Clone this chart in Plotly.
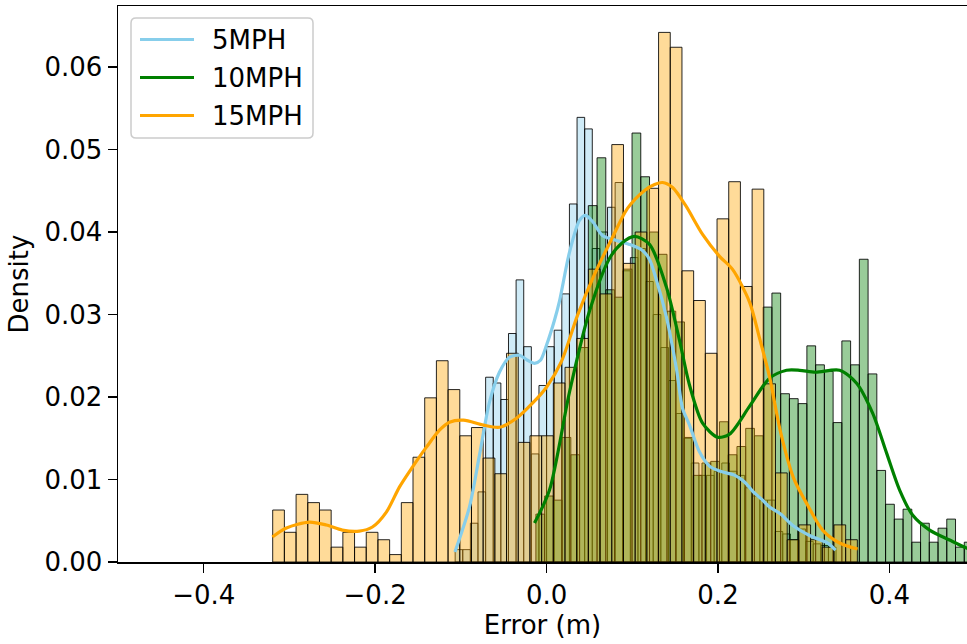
import plotly.graph_objects as go

# ---------------- data ----------------
series_names = ["5MPH", "10MPH", "15MPH"]
series_colors = ["#87CEEB", "#008000", "#FFA500"]

# histogram bins: first left edge and bin width (data units), 50 bins each
blue_bin_start, blue_bin_width = -0.10665, 0.008888
green_bin_start, green_bin_width = -0.01249, 0.01020
orange_bin_start, orange_bin_width = -0.31952, 0.013642

blue_density = [0.0015, 0.0015, 0.0047, 0.0085, 0.0224, 0.0217, 0.0197, 0.0277, 0.0342, 0.0261,
                0.0131, 0.0214, 0.0261, 0.0281, 0.0325, 0.0434, 0.0539, 0.0525, 0.0380, 0.0400,
                0.0430, 0.0460, 0.0353, 0.0369, 0.0380, 0.0340, 0.0300, 0.0260, 0.0220, 0.0180,
                0.0150, 0.0120, 0.0105, 0.0105, 0.0110, 0.0120, 0.0110, 0.0105, 0.0090, 0.0080,
                0.0075, 0.0075, 0.0037, 0.0034, 0.0027, 0.0040, 0.0025, 0.0022, 0.0020, 0.0018]

green_density = [0.0058, 0.0080, 0.0075, 0.0151, 0.0130, 0.0260, 0.0432, 0.0490, 0.0330, 0.0321,
                 0.0355, 0.0520, 0.0467, 0.0400, 0.0373, 0.0304, 0.0291, 0.0151, 0.0105, 0.0120,
                 0.0122, 0.0170, 0.0130, 0.0140, 0.0162, 0.0153, 0.0309, 0.0326, 0.0204, 0.0198,
                 0.0192, 0.0262, 0.0239, 0.0231, 0.0169, 0.0268, 0.0239, 0.0367, 0.0228, 0.0111,
                 0.0070, 0.0052, 0.0064, 0.0024, 0.0047, 0.0024, 0.0041, 0.0052, 0.0018, 0.0024]

orange_density = [0.0063, 0.0036, 0.0082, 0.0072, 0.0063, 0.0018, 0.0036, 0.0018, 0.0036, 0.0027,
                  0.0009, 0.0072, 0.0127, 0.0199, 0.0244, 0.0209, 0.0153, 0.0163, 0.0126, 0.0107,
                  0.0253, 0.0145, 0.0153, 0.0153, 0.0217, 0.0236, 0.0271, 0.0355, 0.0325, 0.0506,
                  0.0362, 0.0400, 0.0453, 0.0642, 0.0624, 0.0353, 0.0317, 0.0253, 0.0416, 0.0461,
                  0.0334, 0.0452, 0.0216, 0.0108, 0.0027, 0.0045, 0.0027, 0.0018, 0.0045, 0.0027]

# KDE curves
blue_kde_x = [-0.1069, -0.0900, -0.0783, -0.0666, -0.0550, -0.0433, -0.0316, -0.0223, -0.0141, -0.0071,
              -0.0001, 0.0092, 0.0150, 0.0267, 0.0384, 0.0454, 0.0536, 0.0652, 0.0816, 0.0967,
              0.1119, 0.1201, 0.1283, 0.1399, 0.1516, 0.1586, 0.1668, 0.1785, 0.1901, 0.2018,
              0.2193, 0.2310, 0.2403, 0.2520, 0.2602, 0.2730, 0.2882, 0.3080, 0.3279, 0.3372]
blue_kde_y = [0.00121, 0.00666, 0.01295, 0.01937, 0.02300, 0.02482, 0.02506, 0.02446, 0.02409, 0.02446,
              0.02627, 0.02930, 0.03160, 0.03753, 0.04140, 0.04201, 0.04128, 0.03959, 0.03898, 0.03850,
              0.03777, 0.03668, 0.03414, 0.02966, 0.02337, 0.01864, 0.01659, 0.01332, 0.01162, 0.01102,
              0.01053, 0.00969, 0.00860, 0.00751, 0.00666, 0.00581, 0.00436, 0.00315, 0.00230, 0.00145]

green_kde_x = [-0.0141, 0.0034, 0.0267, 0.0500, 0.0734, 0.0874, 0.1026, 0.1201, 0.1399, 0.1551,
               0.1668, 0.1820, 0.1995, 0.2135, 0.2369, 0.2602, 0.2800, 0.2952, 0.3138, 0.3419,
               0.3617, 0.3804, 0.3967, 0.4119, 0.4270, 0.4469, 0.4702, 0.4900, 0.4976]
green_kde_y = [0.00472, 0.00872, 0.02058, 0.03039, 0.03680, 0.03862, 0.03947, 0.03850, 0.03329, 0.02688,
               0.02143, 0.01683, 0.01513, 0.01550, 0.01889, 0.02228, 0.02324, 0.02324, 0.02300, 0.02324,
               0.02167, 0.01804, 0.01320, 0.00872, 0.00569, 0.00387, 0.00266, 0.00169, 0.00145]

orange_kde_x = [-0.3199, -0.3035, -0.2767, -0.2569, -0.2382, -0.2184, -0.2032, -0.1869, -0.1717, -0.1565,
                -0.1402, -0.1250, -0.1133, -0.0970, -0.0736, -0.0550, -0.0351, -0.0153, -0.0001, 0.0174,
                0.0361, 0.0559, 0.0757, 0.0944, 0.1143, 0.1260, 0.1353, 0.1470, 0.1622, 0.1820,
                0.2018, 0.2170, 0.2369, 0.2485, 0.2602, 0.2730, 0.2882, 0.3045, 0.3220, 0.3419, 0.3629]
orange_kde_y = [0.00303, 0.00412, 0.00484, 0.00448, 0.00387, 0.00375, 0.00424, 0.00605, 0.00908, 0.01150,
                0.01392, 0.01598, 0.01695, 0.01719, 0.01659, 0.01634, 0.01743, 0.01937, 0.02119, 0.02433,
                0.02990, 0.03487, 0.03910, 0.04286, 0.04504, 0.04576, 0.04600, 0.04540, 0.04322, 0.03971,
                0.03705, 0.03547, 0.03148, 0.02712, 0.02240, 0.01574, 0.01017, 0.00690, 0.00387, 0.00230, 0.00157]

x_tick_vals = [-0.4, -0.2, 0.0, 0.2, 0.4]
x_tick_text = ["\u22120.4", "\u22120.2", "0.0", "0.2", "0.4"]
y_tick_vals = [0.00, 0.01, 0.02, 0.03, 0.04, 0.05, 0.06]
y_tick_text = ["0.00", "0.01", "0.02", "0.03", "0.04", "0.05", "0.06"]

# ---------------- figure ----------------
FONT = "DejaVu Sans"
FS = 26
W, H = 967, 644
ML, MR, MT, MB = 118, 0, 6, 82
PW, PH = W - ML - MR, H - MT - MB


def rgba(hex_color, a):
    h = hex_color.lstrip("#")
    r, g, b = int(h[0:2], 16), int(h[2:4], 16), int(h[4:6], 16)
    return f"rgba({r},{g},{b},{a})"


def px_x(px):
    return (px - ML) / PW


def px_y(py):
    return (H - MB - py) / PH


hist_specs = [
    (blue_bin_start, blue_bin_width, blue_density),
    (green_bin_start, green_bin_width, green_density),
    (orange_bin_start, orange_bin_width, orange_density),
]
kde_specs = [
    (blue_kde_x, blue_kde_y),
    (green_kde_x, green_kde_y),
    (orange_kde_x, orange_kde_y),
]

fig = go.Figure()

for (start, width, dens), color, name in zip(hist_specs, series_colors, series_names):
    centers = [start + width * (i + 0.5) for i in range(len(dens))]
    fig.add_trace(go.Bar(
        x=centers, y=dens, width=width,
        marker=dict(color=rgba(color, 0.4), line=dict(color="rgba(0,0,0,0.85)", width=1)),
        showlegend=False, hoverinfo="skip", name=name + " hist",
    ))

for (kx, ky), color, name in zip(kde_specs, series_colors, series_names):
    fig.add_trace(go.Scatter(
        x=kx, y=ky, mode="lines", name=name, showlegend=False,
        line=dict(color=color, width=3.2, shape="spline", smoothing=0.8),
    ))

# ---- legend drawn as a box, sample lines and labels (matplotlib style) ----
bx0, bx1, by0, by1, rad = 131, 313, 18, 138, 5
rx, ry = rad / PW, rad / PH
X0, X1, Y0, Y1 = px_x(bx0), px_x(bx1), px_y(by1), px_y(by0)
box_path = (f"M{X0 + rx},{Y0} L{X1 - rx},{Y0} Q{X1},{Y0} {X1},{Y0 + ry} "
            f"L{X1},{Y1 - ry} Q{X1},{Y1} {X1 - rx},{Y1} L{X0 + rx},{Y1} "
            f"Q{X0},{Y1} {X0},{Y1 - ry} L{X0},{Y0 + ry} Q{X0},{Y0} {X0 + rx},{Y0} Z")
shapes = [dict(type="path", path=box_path, xref="paper", yref="paper",
               fillcolor="rgba(255,255,255,0.8)", line=dict(color="#cccccc", width=1.5),
               layer="above")]
annotations = []
row_y = [39.5, 77.5, 115.5]
for name, color, ry_px in zip(series_names, series_colors, row_y):
    shapes.append(dict(type="line", xref="paper", yref="paper",
                       x0=px_x(140), x1=px_x(194), y0=px_y(ry_px), y1=px_y(ry_px),
                       line=dict(color=color, width=3.2), layer="above"))
    annotations.append(dict(text=name, xref="paper", yref="paper",
                            x=px_x(210), y=px_y(ry_px + 1), xanchor="left", yanchor="middle",
                            showarrow=False, font=dict(family=FONT, size=FS, color="black")))

fig.update_layout(
    width=W, height=H,
    margin=dict(l=ML, r=MR, t=MT, b=MB, autoexpand=False),
    paper_bgcolor="white", plot_bgcolor="white",
    barmode="overlay", bargap=0,
    font=dict(family=FONT, size=FS, color="black"),
    showlegend=False,
    shapes=shapes, annotations=annotations,
    xaxis=dict(
        range=[-0.5, 0.4905], tickmode="array", tickvals=x_tick_vals, ticktext=x_tick_text,
        ticks="outside", ticklen=9, tickwidth=1.5, tickcolor="black",
        showline=True, linecolor="black", linewidth=1.5, mirror=True,
        showgrid=False, zeroline=False, automargin=False,
        title=dict(text="Error (m)", standoff=6, font=dict(family=FONT, size=FS)),
        tickfont=dict(family=FONT, size=FS),
    ),
    yaxis=dict(
        range=[0, 0.0674], tickmode="array", tickvals=y_tick_vals, ticktext=y_tick_text,
        ticks="outside", ticklen=9, tickwidth=1.5, tickcolor="black",
        showline=True, linecolor="black", linewidth=1.5,
        showgrid=False, zeroline=False, automargin=False,
        title=dict(text="Density", standoff=8, font=dict(family=FONT, size=FS)),
        tickfont=dict(family=FONT, size=FS),
    ),
)

fig.write_html("out.html", config={"displayModeBar": False, "staticPlot": True},
               post_script="document.body.style.margin='0px';")
